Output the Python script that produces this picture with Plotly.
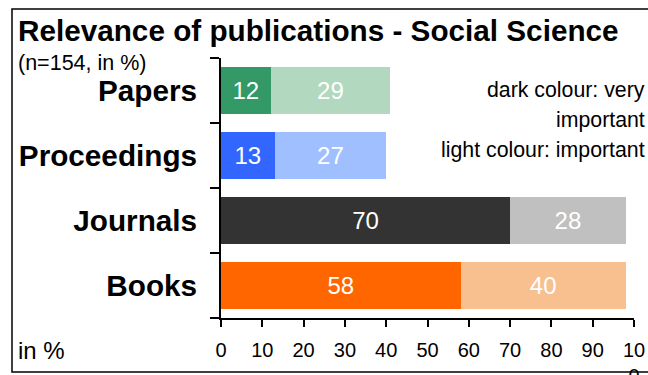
import plotly.graph_objects as go

categories = ["Papers", "Proceedings", "Journals", "Books"]
very_important = [12, 13, 70, 58]
important = [29, 27, 28, 40]
dark_colors = ["#339966", "#3366FF", "#333333", "#FF6600"]
light_colors = ["#B2D8BF", "#A0BFFF", "#C0C0C0", "#F8BF8F"]
tick_vals = [0, 10, 20, 30, 40, 50, 60, 70, 80, 90, 100]
tick_text = ["0", "10", "20", "30", "40", "50", "60", "70", "80", "90", "10<br>0"]

W, H = 648, 375
L, R, T, B = 221, 14, 58, 57
PW, PH = W - L - R, H - T - B
FONT = "Liberation Sans, Arial, sans-serif"


def xp(px):
    return (px - L) / PW


def yp(py):
    return (H - B - py) / PH


fig = go.Figure()
for vals, cols in ((very_important, dark_colors), (important, light_colors)):
    fig.add_trace(go.Bar(
        y=categories, x=vals, orientation="h",
        marker=dict(color=cols, line=dict(width=0)),
        text=vals, textposition="inside", insidetextanchor="middle",
        textangle=0, constraintext="none",
        textfont=dict(color="white", size=24, family=FONT),
        hoverinfo="skip", width=0.73,
    ))

fig.update_layout(
    width=W, height=H, barmode="stack", showlegend=False,
    margin=dict(l=L, r=R, t=T, b=B, pad=0, autoexpand=False),
    paper_bgcolor="white", plot_bgcolor="white",
    font=dict(family=FONT, color="black"),
    xaxis=dict(
        range=[0, 100], tickvals=tick_vals, ticktext=tick_text, automargin=False,
        showgrid=False, zeroline=False, showline=True, linecolor="black", linewidth=2,
        ticks="outside", ticklen=7, tickwidth=2, tickcolor="black",
        tickfont=dict(size=20, family=FONT), ticklabelstandoff=6,
    ),
    yaxis=dict(
        type="category", categoryorder="array", categoryarray=categories[::-1],
        range=[-0.5, 3.5], showgrid=False, zeroline=False, automargin=False,
        showline=True, linecolor="black", linewidth=2,
        ticks="outside", ticklen=9, tickwidth=2, tickcolor="black", tickson="boundaries",
        tickfont=dict(size=29.7, family=FONT, weight="bold"), ticklabelstandoff=16,
    ),
    shapes=[dict(type="rect", xref="paper", yref="paper",
                 x0=xp(12), x1=xp(700), y0=yp(372), y1=yp(9),
                 line=dict(color="black", width=1.5), fillcolor="rgba(0,0,0,0)", layer="above")],
)

annotations = [
    dict(text="<b>Relevance of publications - Social Science</b>", x=xp(16), y=yp(31),
         xanchor="left", yanchor="middle", font=dict(size=29.7, family=FONT)),
    dict(text="(n=154, in %)", x=xp(16), y=yp(63),
         xanchor="left", yanchor="middle", font=dict(size=21.5, family=FONT)),
    dict(text="in %", x=xp(16), y=yp(350),
         xanchor="left", yanchor="middle", font=dict(size=24, family=FONT)),
    dict(text="dark colour: very", x=xp(647), y=yp(90),
         xanchor="right", yanchor="middle", font=dict(size=21.3, family=FONT)),
    dict(text="important", x=xp(647), y=yp(120),
         xanchor="right", yanchor="middle", font=dict(size=21.3, family=FONT)),
    dict(text="light colour: important", x=xp(647), y=yp(150),
         xanchor="right", yanchor="middle", font=dict(size=21.3, family=FONT)),
]
for a in annotations:
    a.update(xref="paper", yref="paper", showarrow=False)
    fig.add_annotation(**a)

fig.write_html("out.html")
